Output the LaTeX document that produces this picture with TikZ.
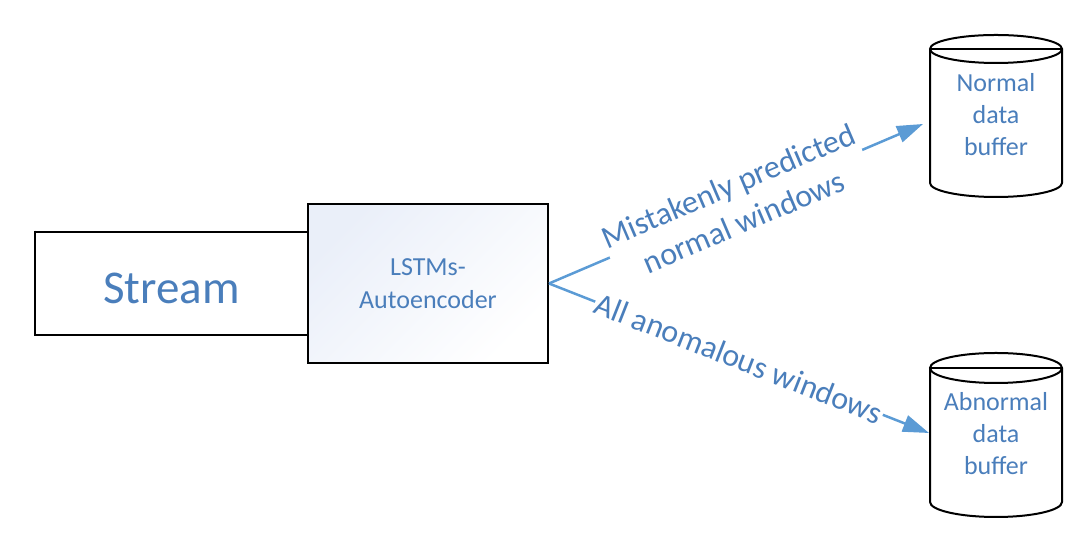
\documentclass[tikz,border=0pt]{standalone}
\usepackage{fontspec}
\setmainfont{Carlito}
\usetikzlibrary{arrows.meta}
\definecolor{txtblue}{HTML}{4A7EBB}
\definecolor{lnblue}{HTML}{5B9BD5}
\definecolor{shadeblue}{RGB}{234,239,249}
\begin{document}
\begin{tikzpicture}[x=1pt,y=1pt,
  blk/.style={line width=2pt, draw=black},
  lbl/.style={text=txtblue, font=\fontsize{32}{39}\selectfont, align=center, fill=white, inner sep=1pt, sloped},
  conn/.style={draw=lnblue, line width=2.5pt, -{Triangle[length=26pt,width=17pt]}},
  cyltext/.style={text=txtblue, font=\fontsize{26}{32}\selectfont, align=center}]
\useasboundingbox (0,0) rectangle (1082,534);
% Stream
\node[minimum width=273, minimum height=103, anchor=south west, inner sep=0] (stream) at (35,199) {};
\draw[blk] (stream.north east) -- (stream.north west) -- (stream.south west) -- (stream.south east);
\draw[blk] ([yshift=1pt]stream.north west) -- ([yshift=-1pt]stream.south west);
\node[text=txtblue, font=\fontsize{47}{50}\selectfont, anchor=base] (streamtxt) at (171.5,230.5) {Stream};
% LSTM box
\node[draw, line width=2pt, minimum width=240, minimum height=159, top color=shadeblue, bottom color=white, shading angle=45, text=txtblue, font=\fontsize{26}{33}\selectfont, align=center] (lstm) at (428,250.5) {LSTMs-\\Autoencoder};
% Normal cylinder
\draw[blk] (930,485) -- (930,351) arc (180:360:66 and 14) -- (1062,485);
\draw[blk] (996,485) ellipse (66 and 14);
\draw[blk] (930,485) -- (1062,485);
\node[cyltext] (normal) at (996,419) {Normal\\data\\buffer};
% Abnormal cylinder
\draw[blk] (930,166) -- (930,32) arc (180:360:66 and 15) -- (1062,166);
\draw[blk] (996,166) ellipse (66 and 15);
\draw[blk] (930,166) -- (1062,166);
\node[cyltext] (abnormal) at (996,100.5) {Abnormal\\data\\buffer};
% connectors
\coordinate (t1) at (923,410);
\coordinate (t2) at (929,101);
\draw[conn] (lstm.east) -- node[lbl] {Mistakenly predicted\\normal windows} (t1);
\draw[conn] (lstm.east) -- node[lbl] {All anomalous windows} (t2);
\end{tikzpicture}
\end{document}
